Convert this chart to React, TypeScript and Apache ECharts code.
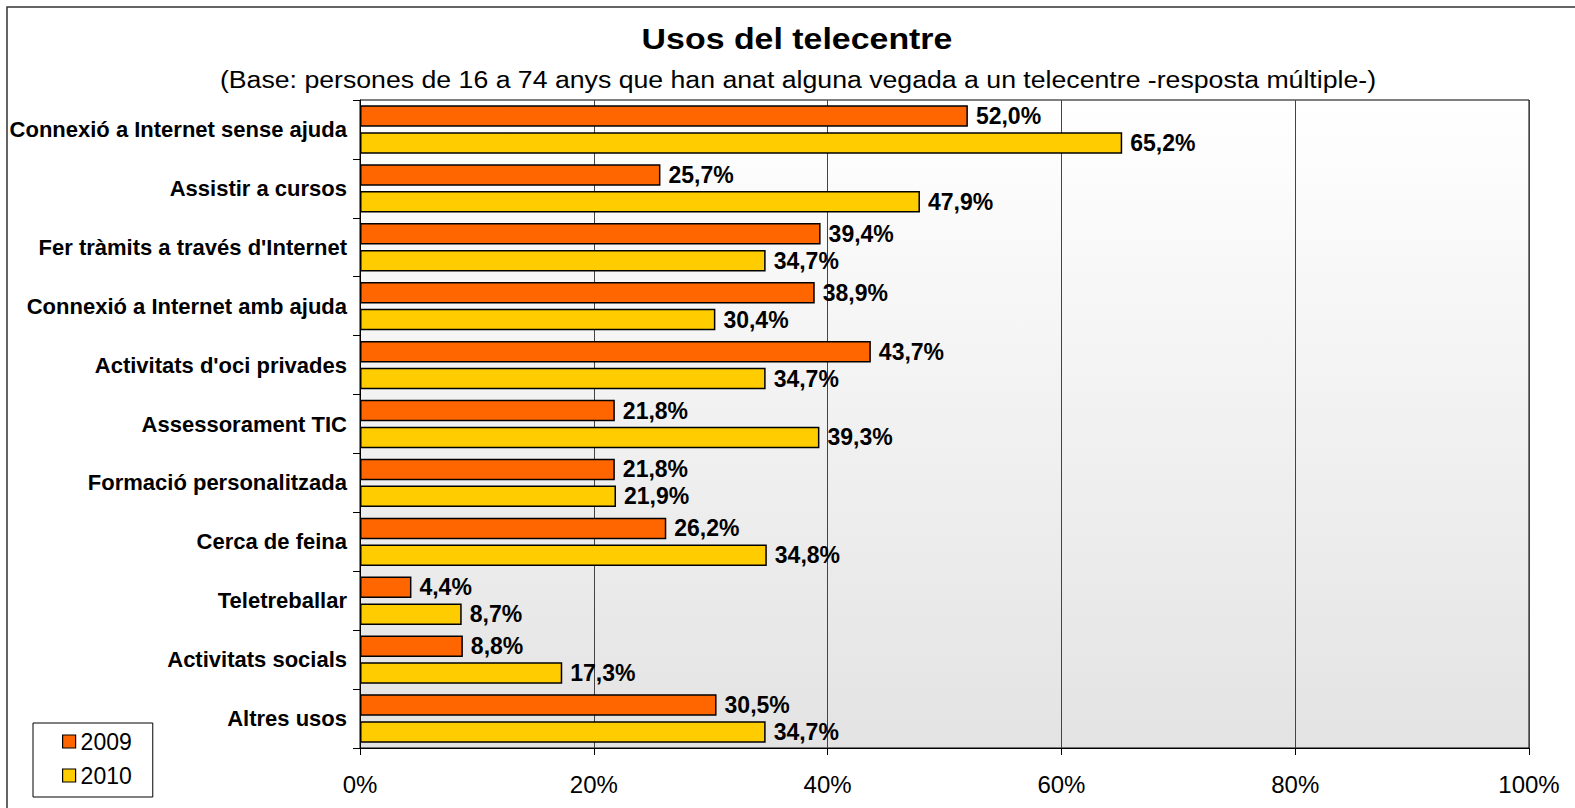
import React, { useEffect, useRef } from "react";
import * as echarts from "echarts";

const categories = [
  "Connexió a Internet sense ajuda",
  "Assistir a cursos",
  "Fer tràmits a través d'Internet",
  "Connexió a Internet amb ajuda",
  "Activitats d'oci privades",
  "Assessorament TIC",
  "Formació personalitzada",
  "Cerca de feina",
  "Teletreballar",
  "Activitats socials",
  "Altres usos",
];
const values2009 = [52.0, 25.7, 39.4, 38.9, 43.7, 21.8, 21.8, 26.2, 4.4, 8.8, 30.5];
const values2010 = [65.2, 47.9, 34.7, 30.4, 34.7, 39.3, 21.9, 34.8, 8.7, 17.3, 34.7];
const seriesNames = ["2009", "2010"];
const titleText = "Usos del telecentre";
const subtitleText =
  "(Base: persones de 16 a 74 anys que han anat alguna vegada a un telecentre -resposta múltiple-)";

const FONT = "'Liberation Sans', Arial, Helvetica, sans-serif";

export default function App() {
  const ref = useRef<HTMLDivElement>(null);
  useEffect(() => {
    if (!ref.current) return;
    const chart = echarts.init(ref.current, undefined, { renderer: "svg" });
    const fmt = (p: any) => Number(p.value).toFixed(1).replace(".", ",") + "%";
    const label = {
      show: true,
      position: "right",
      distance: 8,
      formatter: fmt,
      color: "#000",
      fontFamily: FONT,
      fontWeight: "bold",
      fontSize: 23,
    };
    chart.setOption({
      animation: false,
      backgroundColor: "#fff",
      textStyle: { fontFamily: FONT },
      graphic: [
        {
          type: "rect",
          z: -10,
          shape: { x: 7, y: 7, width: 1800, height: 1000 },
          style: { fill: "none", stroke: "#333", lineWidth: 1.5 },
          silent: true,
        },
        {
          type: "text",
          x: 797,
          y: 39,
          scaleX: 1.13,
          style: {
            text: titleText,
            fill: "#000",
            font: `bold 30px ${FONT}`,
            textAlign: "center",
            textVerticalAlign: "middle",
          },
        },
        {
          type: "text",
          x: 798,
          y: 80,
          scaleX: 1.16,
          style: {
            text: subtitleText,
            fill: "#000",
            font: `23px ${FONT}`,
            textAlign: "center",
            textVerticalAlign: "middle",
          },
        },
      ],
      legend: {
        orient: "vertical",
        left: 33,
        top: 723,
        data: seriesNames,
        icon: "rect",
        itemWidth: 13,
        itemHeight: 13,
        itemGap: 11,
        padding: [7, 21, 10, 29],
        backgroundColor: "#fff",
        borderColor: "#000",
        borderWidth: 1,
        borderRadius: 0,
        textStyle: { fontSize: 23, color: "#000", fontFamily: FONT, lineHeight: 23 },
        itemStyle: { borderColor: "#000", borderWidth: 1.2 },
      },
      grid: {
        left: 360,
        right: 46,
        top: 100,
        bottom: 60,
        show: true,
        borderColor: "#000",
        borderWidth: 1,
        backgroundColor: new echarts.graphic.LinearGradient(0, 0, 0, 1, [
          { offset: 0, color: "#ffffff" },
          { offset: 1, color: "#e3e3e3" },
        ]),
      },
      xAxis: {
        type: "value",
        min: 0,
        max: 100,
        interval: 20,
        axisLine: { show: true, lineStyle: { color: "#000", width: 1 } },
        axisTick: { show: true, length: 7, lineStyle: { color: "#000" } },
        axisLabel: {
          formatter: "{value}%",
          fontSize: 24,
          color: "#000",
          fontFamily: FONT,
          margin: 24,
        },
        splitLine: { show: true, lineStyle: { color: "#444", width: 1 } },
      },
      yAxis: {
        type: "category",
        data: categories,
        inverse: true,
        axisLine: { show: true, lineStyle: { color: "#000", width: 1 } },
        axisTick: { show: true, length: 7, lineStyle: { color: "#000" } },
        axisLabel: {
          fontSize: 22,
          fontWeight: "bold",
          color: "#000",
          fontFamily: FONT,
          margin: 13,
        },
        splitLine: { show: false },
      },
      series: [
        {
          name: seriesNames[0],
          type: "bar",
          data: values2009,
          barWidth: 21.5,
          barGap: "25%",
          itemStyle: { color: "#FF6600", borderColor: "#000", borderWidth: 1.5 },
          label,
        },
        {
          name: seriesNames[1],
          type: "bar",
          data: values2010,
          barWidth: 21.5,
          barGap: "25%",
          itemStyle: { color: "#FFCC00", borderColor: "#000", borderWidth: 1.5 },
          label,
        },
      ],
    });
    return () => chart.dispose();
  }, []);
  return (
    <div
      ref={ref}
      style={{ position: "absolute", left: 0, top: 0, width: 1575, height: 808 }}
    />
  );
}
